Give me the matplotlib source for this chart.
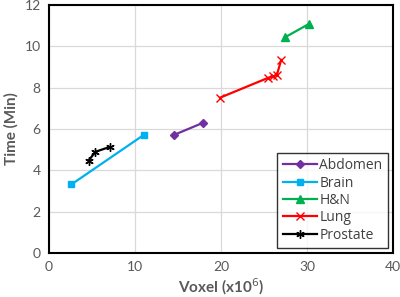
import matplotlib
matplotlib.use("Agg")
import matplotlib.pyplot as plt

plt.rcParams['font.family'] = ['Lato', 'DejaVu Sans']

# series: voxel count (x10^6) and time (min)
abdomen_x = [14.5, 17.9]
abdomen_y = [5.71, 6.3]
brain_x = [2.6, 11.0]
brain_y = [3.32, 5.71]
hn_x = [30.2, 27.4]
hn_y = [11.08, 10.43]
lung_x = [19.9, 25.5, 26.1, 26.5, 27.0]
lung_y = [7.52, 8.48, 8.55, 8.62, 9.35]
prostate_x = [4.6, 5.4, 7.1]
prostate_y = [4.47, 4.9, 5.14]

fig = plt.figure(figsize=(4.0, 2.97), dpi=100)
ax = fig.add_axes([0.1225, 0.148, 0.86, 0.835])

ax.plot(abdomen_x, abdomen_y, color='#7030A0', marker='D', ms=4.5, lw=1.6, label='Abdomen')
ax.plot(brain_x, brain_y, color='#00B0F0', marker='s', ms=5, lw=1.6, label='Brain')
ax.plot(hn_x, hn_y, color='#00B050', marker='^', ms=6, lw=1.6, label='H&N')
ax.plot(lung_x, lung_y, color='#FF0000', marker='x', ms=5.5, mew=1, lw=1.6, label='Lung')
ax.plot(prostate_x, prostate_y, color='black', marker=(6, 2, 0), ms=6, mew=1, lw=1.6, label='Prostate')

ax.set_xlim(0, 40)
ax.set_ylim(0, 12)
ax.set_xticks([0, 10, 20, 30, 40])
ax.set_yticks([0, 2, 4, 6, 8, 10, 12])
ax.grid(True, color='#D9D9D9', lw=0.9)
ax.set_axisbelow(True)
for s in ax.spines.values():
    s.set_color('black')
    s.set_linewidth(1.5)
ax.tick_params(length=0, labelsize=10, labelcolor='#595959', pad=6)

ax.set_xlabel('Voxel (x10$^6$)', fontsize=11, fontweight='bold', color='#595959', labelpad=2)
ax.set_ylabel('Time (Min)', fontsize=11, fontweight='bold', color='#595959', labelpad=4)

leg = ax.legend(loc='lower right', prop={'family': ['Open Sans', 'DejaVu Sans'], 'size': 10},
                frameon=True, fancybox=False, edgecolor='black',
                borderpad=0.4, labelspacing=0.17,
                handlelength=2.5, handletextpad=0.15, borderaxespad=0.35)
leg.get_frame().set_linewidth(1.0)
for t in leg.get_texts():
    t.set_color('#404040')

fig.savefig('out.png', dpi=100)
